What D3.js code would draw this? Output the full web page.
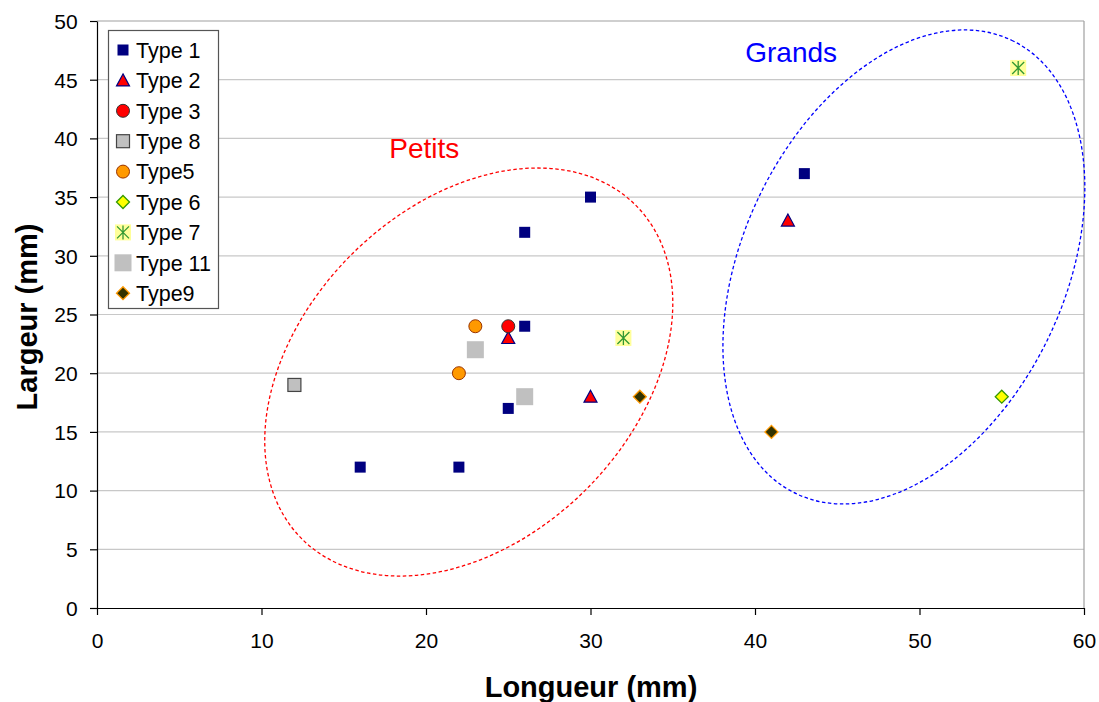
<!DOCTYPE html>
<html><head><meta charset="utf-8">
<script src="https://cdn.jsdelivr.net/npm/d3@7"></script>
<style>body{margin:0;background:#fff}svg{font-family:"Liberation Sans",Arial,sans-serif}</style>
</head><body><svg id="c" width="1099" height="702"></svg>
<script>
const xTicks=[0,10,20,30,40,50,60];
const yTicks=[0,5,10,15,20,25,30,35,40,45,50];
const seriesNames=["Type 1","Type 2","Type 3","Type 8","Type5","Type 6","Type 7","Type 11","Type9"];
const type1=[[16,12],[22,12],[25,17],[26,24],[26,32],[30,35],[43,37]];
const type2=[[25,23],[30,18],[42,33]];
const type3=[[25,24]];
const type8=[[12,19]];
const type5=[[23,24],[22,20]];
const type6=[[55,18]];
const type7=[[32,23],[56,46]];
const type11=[[23,22],[26,18]];
const type9=[[33,18],[41,15]];
const groupLabels=["Petits","Grands"];
const groupCenters=[[22.6,20.1],[49.05,29.05]];
const groupLabelPos=[[19.9,38.3],[42.2,46.5]];

const svg=d3.select("#c");
const L=97,R=1084,T=21,B=608;
const x=d3.scaleLinear().domain([0,60]).range([L,R]);
const y=d3.scaleLinear().domain([0,50]).range([B,T]);

svg.append("g").selectAll("line").data(yTicks.filter(d=>d>0)).join("line")
  .attr("x1",L).attr("x2",R).attr("y1",d=>y(d)).attr("y2",d=>y(d))
  .attr("stroke",d=>d===50?"#a0a0a0":"#c8c8c8").attr("stroke-width",1.2);
svg.append("line").attr("x1",R).attr("x2",R).attr("y1",T).attr("y2",B).attr("stroke","#a0a0a0").attr("stroke-width",1.2);

const xa=svg.append("g").attr("transform",`translate(0,${B})`).call(d3.axisBottom(x).tickValues(xTicks).tickSize(7).tickSizeOuter(0));
const ya=svg.append("g").attr("transform",`translate(${L},0)`).call(d3.axisLeft(y).tickValues(yTicks).tickSize(7).tickSizeOuter(0));
[xa,ya].forEach(a=>{a.select(".domain").attr("stroke","#000").attr("stroke-width",1.2);
  a.selectAll(".tick line").attr("stroke","#000").attr("stroke-width",1.2);
  a.selectAll("text").attr("font-size",21).attr("fill","#000").attr("font-family","Liberation Sans, Arial, sans-serif");});
xa.selectAll("text").attr("dy","1.45em");
ya.selectAll("text").attr("dx","-0.45em").attr("dy","0.35em");

svg.append("text").attr("x",591).attr("y",697).attr("text-anchor","middle")
  .attr("font-size",29).attr("font-weight","bold").text("Longueur (mm)");
svg.append("text").attr("transform",`translate(37,317) rotate(-90)`).attr("text-anchor","middle")
  .attr("font-size",29).attr("font-weight","bold").text("Largeur (mm)");

const ellStyle=[{a:236,b:166,rot:45,col:"#ff0000"},{a:251,b:161,rot:64.6,col:"#0000ff"}];
groupCenters.forEach((c,i)=>{
  const s=ellStyle[i];
  svg.append("ellipse").attr("cx",0).attr("cy",0).attr("rx",s.a).attr("ry",s.b)
    .attr("transform",`translate(${x(c[0])},${y(c[1])}) rotate(${-s.rot})`)
    .attr("fill","none").attr("stroke",s.col).attr("stroke-width",1.3).attr("stroke-dasharray","3.5,2.5");
  svg.append("text").attr("x",x(groupLabelPos[i][0])).attr("y",y(groupLabelPos[i][1]))
    .attr("text-anchor","middle").attr("font-size",28).attr("fill",s.col).text(groupLabels[i]);
});

function mk(g,type,cx,cy){
  switch(type){
    case 0: g.append("rect").attr("x",cx-5.5).attr("y",cy-5.5).attr("width",11).attr("height",11).attr("fill","#000080"); break;
    case 1: g.append("path").attr("d",`M${cx},${cy-6.5}L${cx+6.5},${cy+5.5}L${cx-6.5},${cy+5.5}Z`).attr("fill","#ff0000").attr("stroke","#000080").attr("stroke-width",1.2); break;
    case 2: g.append("circle").attr("cx",cx).attr("cy",cy).attr("r",6.5).attr("fill","#ff0000").attr("stroke","#333").attr("stroke-width",1); break;
    case 3: g.append("rect").attr("x",cx-6.5).attr("y",cy-6.5).attr("width",13).attr("height",13).attr("fill","#c0c0c0").attr("stroke","#444").attr("stroke-width",1.2); break;
    case 4: g.append("circle").attr("cx",cx).attr("cy",cy).attr("r",6.5).attr("fill","#ff9900").attr("stroke","#993300").attr("stroke-width",1); break;
    case 5: g.append("path").attr("d",`M${cx},${cy-6.5}L${cx+6.5},${cy}L${cx},${cy+6.5}L${cx-6.5},${cy}Z`).attr("fill","#ffff00").attr("stroke","#339900").attr("stroke-width",1.3); break;
    case 6: g.append("rect").attr("x",cx-8).attr("y",cy-8).attr("width",16).attr("height",16).attr("fill","#ffff99");
      g.append("path").attr("d",`M${cx-6},${cy-6}L${cx+6},${cy+6}M${cx+6},${cy-6}L${cx-6},${cy+6}M${cx},${cy-7}L${cx},${cy+7}`).attr("stroke","#339933").attr("stroke-width",1.3); break;
    case 7: g.append("rect").attr("x",cx-8.5).attr("y",cy-8.5).attr("width",17).attr("height",17).attr("fill","#c0c0c0"); break;
    case 8: g.append("path").attr("d",`M${cx},${cy-6.5}L${cx+6.5},${cy}L${cx},${cy+6.5}L${cx-6.5},${cy}Z`).attr("fill","#333300").attr("stroke","#ff9900").attr("stroke-width",1.3); break;
  }
}
const allSeries=[type1,type2,type3,type8,type5,type6,type7,type11,type9];
const drawOrder=[7,0,1,2,3,4,5,6,8];
const pts=svg.append("g");
drawOrder.forEach(si=>{allSeries[si].forEach(p=>mk(pts,si,x(p[0]),y(p[1])));});

const lg=svg.append("g");
lg.append("rect").attr("x",108.5).attr("y",30.5).attr("width",110).attr("height",278).attr("fill","#fff").attr("stroke","#555").attr("stroke-width",1.2);
seriesNames.forEach((n,i)=>{
  const cy=50+i*30.4;
  mk(lg,i,123,cy);
  lg.append("text").attr("x",136).attr("y",cy).attr("dy","0.36em").attr("font-size",21.5).attr("fill","#000").text(n);
});
</script></body></html>
